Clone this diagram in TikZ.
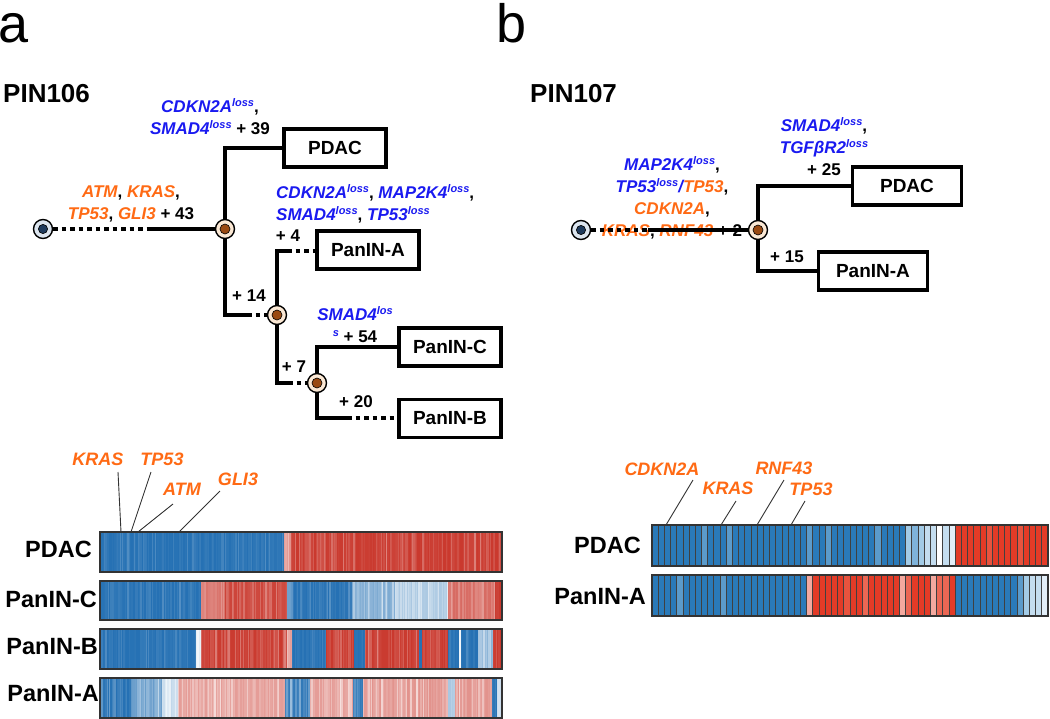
\documentclass[tikz,border=0pt]{standalone}
\usepackage{fontspec}
\setmainfont{Liberation Sans}
\usetikzlibrary{positioning,calc}

\definecolor{mutorange}{HTML}{FF6A14}
\definecolor{lossblue}{HTML}{1A1AF0}
\definecolor{rootfill}{HTML}{DCE5EF}
\definecolor{rootcore}{HTML}{1E3A5C}
\definecolor{nodefill}{HTML}{FBE8D4}
\definecolor{nodecore}{HTML}{9A4A12}
\definecolor{hb}{HTML}{2470B3}
\definecolor{hr}{HTML}{C9372C}
\definecolor{hmB}{HTML}{2A7AB9}
\definecolor{hmM}{HTML}{5B9BCB}
\definecolor{hmL1}{HTML}{7FB3DA}
\definecolor{hmL2}{HTML}{A3CBE6}
\definecolor{hmL3}{HTML}{C4DDEF}
\definecolor{hmL4}{HTML}{E2EEF8}
\definecolor{hmW}{HTML}{FFFFFF}
\definecolor{hmR}{HTML}{E33B27}
\definecolor{hmQ}{HTML}{E8533E}
\definecolor{hmS}{HTML}{EC6754}
\definecolor{hmP}{HTML}{F4A99F}

\newcommand\sups[1]{\raisebox{0.36em}{\fontsize{11}{11}\selectfont #1}}
\newcommand\mut[1]{\textcolor{mutorange}{\itshape #1}}
\newcommand\lss[1]{\textcolor{lossblue}{\itshape #1\sups{loss}}}

% striped heat map row: top, bottom, segments xa/xb/colour/min/max
\newcommand\stripes[3]{%
  \begin{scope}
    \clip (100,#1) rectangle (502,#2);
    \foreach \xa/\xb/\col/\pa/\pb in {#3}{
      \pgfmathsetmacro\xn{\xa+1.3}
      \foreach \s in {\xa,\xn,...,\xb}{
        \pgfmathtruncatemacro\pp{\pb-(\pb-\pa)*rnd*rnd}
        \fill[fill=\col!\pp!white] (\s,#1) rectangle (\s+1.45,#2);
      }
    }
  \end{scope}
  \draw[rowframe] (100,#1) rectangle (502,#2);
}
% cell heat map row: top, list of cell colours
\newcommand\cells[2]{%
  \foreach \c [count=\i from 0] in {#2}
    \fill[fill=hm\c] (652+\i*6.1875,#1) rectangle ++(6.1875,41);
  \foreach \k in {1,...,63}
    \draw[cellsep] (652+\k*6.1875,#1) -- ++(0,41);
  \draw[rowframe] (652,#1) rectangle ++(396,41);
}

\begin{document}
\begin{tikzpicture}[x=1pt, y=-1pt,
    every node/.style={inner sep=0pt},
    txt/.style={font=\bfseries\fontsize{17}{22}\selectfont, align=center},
    box/.style={draw, line width=3.2pt, font=\bfseries\fontsize{19}{19}\selectfont, minimum height=38pt, minimum width=102pt},
    rootnode/.style={circle, draw, line width=1.4pt, fill=rootfill, minimum size=19pt,
      path picture={\fill[rootcore, draw=black, line width=.6pt] (path picture bounding box.center) circle (4.6);}},
    subclone/.style={circle, draw, line width=1.4pt, fill=nodefill, minimum size=19pt,
      path picture={\fill[nodecore, draw=black, line width=.6pt] (path picture bounding box.center) circle (5);}},
    branch/.style={line width=3.6pt},
    dotbranch/.style={branch, dash pattern=on 4.5pt off 4pt},
    hmlabel/.style={font=\bfseries\fontsize{23.5}{23.5}\selectfont, anchor=east},
    genelabel/.style={font=\bfseries\itshape\fontsize{18}{18}\selectfont, text=mutorange},
    pointer/.style={draw=black!80, line width=0.9pt},
    cellsep/.style={draw=black!75, line width=0.8pt},
    rowframe/.style={draw=black!80, line width=1.3pt}]

  \useasboundingbox (0,0) rectangle (1050,718);
  \pgfmathsetseed{7}

  % panel titles
  \node[anchor=base west, font=\fontsize{54}{54}\selectfont] (panelA) at (-2,42) {a};
  \node[anchor=base west, font=\fontsize{54}{54}\selectfont] (panelB) at (496,42) {b};
  \node[anchor=base west, font=\bfseries\fontsize{26}{26}\selectfont] (pinA) at (3,102) {PIN106};
  \node[anchor=base west, font=\bfseries\fontsize{26}{26}\selectfont] (pinB) at (530,102) {PIN107};

  % tree a
  \node[rootnode] (ra) at (43,229) {};
  \node[subclone] (a1) at (225,229) {};
  \node[subclone] (a2) at (277,315) {};
  \node[subclone] (a3) at (317,383) {};
  \node[box] (pdacA) at (335,148) {PDAC};
  \node[box] (panaA) at (368,250) {PanIN-A};
  \node[box] (pancA) at (450,347) {PanIN-C};
  \node[box] (panbA) [below=30pt of pancA] {PanIN-B};

  \coordinate (ka0) at (150,229);
  \coordinate (ka14) at (247,315);
  \coordinate (ka4) at (287,251);
  \coordinate (ka7) at (288,383);
  \coordinate (ka20) at (347,418);

  \node[txt] (lblA0) at (131,204) {\mut{ATM}, \mut{KRAS},\\ \mut{TP53}, \mut{GLI3} + 43};
  \node[txt] (lblA1) at (210,117) {\lss{CDKN2A},\\ \lss{SMAD4} + 39};
  \node[txt, align=left, anchor=west] (lblA2) at (276,204) {\lss{CDKN2A}, \lss{MAP2K4},\\ \lss{SMAD4}, \lss{TP53}};
  \node[txt] (lblA4) at (288,236) {+ 4};
  \node[txt] (lblA14) at (249,296) {+ 14};
  \node[txt] (lblA54) at (355,325) {\textcolor{lossblue}{\itshape SMAD4\sups{los}}\\ \textcolor{lossblue}{\itshape\sups{s}} + 54};
  \node[txt] (lblA7) at (294,367) {+ 7};
  \node[txt] (lblA20) at (356,402) {+ 20};

  \draw[dotbranch] (ra) -- (ka0);
  \draw[branch] (ka0) -- (a1);
  \draw[branch] (a1) |- (pdacA);
  \draw[branch] (a1) |- (ka14);
  \draw[dotbranch] (ka14) -- (a2);
  \draw[branch] (a2) |- (ka4);
  \draw[dotbranch] (ka4) -- (panaA.west |- ka4);
  \draw[branch] (a2) |- (ka7);
  \draw[dotbranch] (ka7) -- (a3);
  \draw[branch] (a3) |- (pancA);
  \draw[branch] (a3) |- (ka20);
  \draw[dotbranch] (ka20) -- (panbA.west |- ka20);

  % tree b
  \node[rootnode] (rb) at (581,230) {};
  \node[subclone] (b1) at (758,230) {};
  \node[box, minimum width=109pt] (pdacB) at (907,186) {PDAC};
  \node[box, minimum width=109pt] (panaB) at (873,271) {PanIN-A};
  \coordinate (kb0) at (648,230);

  \node[txt] (lblB0) at (672,198) {\lss{MAP2K4},\\ \lss{TP53}\textcolor{lossblue}{\itshape /}\mut{TP53},\\ \mut{CDKN2A},\\ \mut{KRAS}, \mut{RNF43} + 2};
  \node[txt] (lblB1) at (824,147) {\lss{SMAD4},\\ \lss{TGFβR2}\\ + 25};
  \node[txt] (lblB15) at (787,257) {+ 15};

  \draw[dotbranch] (rb) -- (kb0);
  \draw[branch] (kb0) -- (b1);
  \draw[branch] (b1) |- (pdacB);
  \draw[branch] (b1) |- (panaB);

  % heat map a
  \stripes{532}{572}{100/284/hb/78/100, 284/291/hr/30/55, 291/502/hr/58/100}
  \stripes{581}{620}{100/201/hb/78/100, 201/225/hr/45/70, 225/287/hr/55/95, 287/293/hb/45/75,
    293/352/hb/70/100, 352/395/hb/20/60, 395/448/hb/5/40, 448/495/hr/40/75, 495/502/hr/80/100}
  \stripes{629}{669}{100/196/hb/80/100, 196/201/hb/0/15, 201/287/hr/55/100, 287/292/hr/30/50,
    292/326/hb/80/100, 326/354/hr/65/100, 354/365/hb/85/100, 365/419/hr/60/100, 419/422/hb/85/100,
    422/448/hr/65/100, 448/459/hb/85/100, 459/461/hb/0/10, 461/478/hb/80/100, 478/493/hb/15/55,
    493/502/hr/80/100}
  \stripes{678}{718}{100/132/hb/60/100, 132/162/hb/25/70, 162/178/hb/0/30, 178/285/hr/15/50,
    285/310/hb/40/95, 310/353/hr/10/50, 353/363/hb/55/95, 363/448/hr/15/55, 448/455/hb/10/40,
    455/492/hr/20/55, 492/497/hb/80/100, 497/502/hb/10/30}

  \node[hmlabel] (rowPdacA) at (92,549) {PDAC};
  \node[hmlabel] (rowPancA) at (97,599) {PanIN-C};
  \node[hmlabel] (rowPanbA) at (98,647) {PanIN-B};
  \node[hmlabel] (rowPanaA) at (99,694) {PanIN-A};

  \node[genelabel] (gKrasA) at (98,459) {KRAS};
  \node[genelabel] (gTpA) at (162,459) {TP53};
  \node[genelabel] (gAtmA) at (182,489) {ATM};
  \node[genelabel] (gGliA) at (238,479) {GLI3};
  \coordinate (pKrasA) at (118,472);
  \coordinate (hKrasA) at (121,532);
  \coordinate (pTpA) at (151,472);
  \coordinate (hTpA) at (131,532);
  \coordinate (pAtmA) at (173,504);
  \coordinate (hAtmA) at (138,532);
  \coordinate (pGliA) at (220,491);
  \coordinate (hGliA) at (179,532);
  \draw[pointer] (pKrasA) -- (hKrasA);
  \draw[pointer] (pTpA) -- (hTpA);
  \draw[pointer] (pAtmA) -- (hAtmA);
  \draw[pointer] (pGliA) -- (hGliA);

  % heat map b
  \cells{525}{B,B,B,B,B,B,B,B,M,B,B,B,M,B,B,B,B,B,B,B,B,B,B,B,B,M,B,B,M,B,B,B,B,B,B,B,M,B,B,B,B,L2,L1,L2,L3,L3,W,L3,L4,R,R,R,R,R,Q,R,R,R,R,Q,R,R,R,R}
  \cells{575}{B,B,B,B,M,B,B,B,B,B,B,M,B,B,B,B,B,B,B,B,B,B,B,B,B,P,R,R,R,R,R,Q,R,R,S,R,R,R,R,R,P,S,R,R,R,P,S,S,R,B,B,B,B,B,B,B,B,B,B,M,L2,L3,L3,L4}

  \node[hmlabel] (rowPdacB) at (641,545) {PDAC};
  \node[hmlabel] (rowPanaB) at (646,597) {PanIN-A};

  \node[genelabel] (gCdkB) at (662,469) {CDKN2A};
  \node[genelabel] (gKrasB) at (728,488) {KRAS};
  \node[genelabel] (gRnfB) at (784,468) {RNF43};
  \node[genelabel] (gTpB) at (811,489) {TP53};
  \coordinate (pCdkB) at (693,480);
  \coordinate (hCdkB) at (666,525);
  \coordinate (pKrasB) at (736,501);
  \coordinate (hKrasB) at (721,525);
  \coordinate (pRnfB) at (784,480);
  \coordinate (hRnfB) at (757,525);
  \coordinate (pTpB) at (805,501);
  \coordinate (hTpB) at (791,525);
  \draw[pointer] (pCdkB) -- (hCdkB);
  \draw[pointer] (pKrasB) -- (hKrasB);
  \draw[pointer] (pRnfB) -- (hRnfB);
  \draw[pointer] (pTpB) -- (hTpB);
\end{tikzpicture}
\end{document}
